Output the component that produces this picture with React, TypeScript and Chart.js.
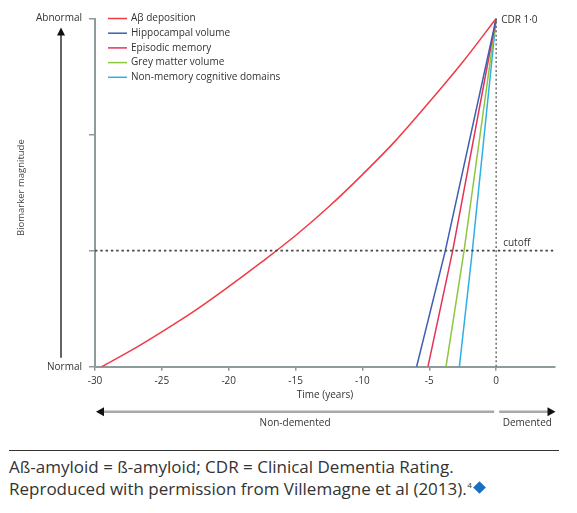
import React, { useEffect, useRef } from "react";
import { Chart, registerables } from "chart.js";

Chart.register(...registerables);

// ---- data ----
const abYears = [-29.5, -27, -25, -22.5, -20, -17.5, -15, -12.5, -10, -7.5, -5, -2.5, 0];
const abMag = [0, 0.16, 0.3, 0.485, 0.69, 0.905, 1.13, 1.38, 1.655, 1.95, 2.28, 2.625, 3];

const hippoYears = [-5.95, -3.8, 0];
const hippoMag = [0, 1, 3];
const episodicYears = [-5.1, -3.25, 0];
const episodicMag = [0, 1, 3];
const greyYears = [-3.75, -2.4, 0];
const greyMag = [0, 1, 3];
const nonMemYears = [-2.75, -1.78, 0];
const nonMemMag = [0, 1, 3];

const cutoffYears = [-30, 4.4];
const cutoffLevel = [1, 1];
const cdrYears = [0, 0];
const cdrLevel = [0, 3];

const seriesLabels = [
  "A\u03b2 deposition",
  "Hippocampal volume",
  "Episodic memory",
  "Grey matter volume",
  "Non-memory cognitive domains",
];
const seriesColors = ["#ef3b44", "#3d5fae", "#e3335a", "#8dc63f", "#2eb0e4"];

const xTickValues = [-30, -25, -20, -15, -10, -5, 0];
const xTickLabels = ["-30", "-25", "-20", "-15", "-10", "-5", "0"];
const yTickValues = [0, 3];
const yTickLabels = ["Normal", "Abnormal"];

const FONT = "'Open Sans', 'Noto Sans', sans-serif";
const AXIS = "#8e9b9c";
const TEXT = "#333333";

const pts = (xs: number[], ys: number[]) => xs.map((x, i) => ({ x, y: ys[i] }));

const decorPlugin = {
  id: "decor",
  afterDraw(chart: any) {
    const ctx = chart.ctx as CanvasRenderingContext2D;
    const xs = chart.scales.x;
    const ys = chart.scales.y;
    const area = chart.chartArea;
    ctx.save();

    // legend
    ctx.font = `10px ${FONT}`;
    ctx.textBaseline = "middle";
    ctx.textAlign = "left";
    chart.data.datasets.forEach((ds: any) => {
      if (ds.legendIndex === undefined) return;
      const y = area.top + ds.legendIndex * 14.7;
      ctx.strokeStyle = ds.borderColor;
      ctx.lineWidth = 1.5;
      ctx.beginPath();
      ctx.moveTo(area.left + 13, y);
      ctx.lineTo(area.left + 32, y);
      ctx.stroke();
      ctx.fillStyle = TEXT;
      ctx.fillText(ds.label, area.left + 36, y);
    });

    // CDR and cutoff labels
    ctx.fillStyle = TEXT;
    ctx.font = `10px ${FONT}`;
    ctx.fillText("CDR 1\u00b70", xs.getPixelForValue(0) + 5, ys.getPixelForValue(3) + 1.5);
    ctx.fillText("cutoff", xs.getPixelForValue(0) + 7, ys.getPixelForValue(1) - 7);

    // left outer arrow
    const ax = 61;
    const topY = ys.getPixelForValue(3) + 9;
    const botY = ys.getPixelForValue(0) - 9;
    ctx.strokeStyle = "#222";
    ctx.fillStyle = "#111";
    ctx.lineWidth = 1.4;
    ctx.beginPath();
    ctx.moveTo(ax, topY + 6);
    ctx.lineTo(ax, botY);
    ctx.stroke();
    ctx.beginPath();
    ctx.moveTo(ax, topY);
    ctx.lineTo(ax - 4, topY + 8);
    ctx.lineTo(ax + 4, topY + 8);
    ctx.closePath();
    ctx.fill();

    // rotated y title
    ctx.save();
    ctx.translate(21, (ys.getPixelForValue(3) + ys.getPixelForValue(0)) / 2 - 5);
    ctx.rotate(-Math.PI / 2);
    ctx.textAlign = "center";
    ctx.fillStyle = "#444";
    ctx.font = `9.5px ${FONT}`;
    ctx.fillText("Biomarker magnitude", 0, 0);
    ctx.restore();

    // bottom arrows
    const by = 411.7;
    const leftTip = xs.getPixelForValue(-30) + 1;
    const midL = xs.getPixelForValue(0) - 2;
    const midR = xs.getPixelForValue(0) + 3;
    const rightTip = area.right + 0.5;
    ctx.strokeStyle = "#a9a9a9";
    ctx.lineWidth = 2.5;
    ctx.beginPath();
    ctx.moveTo(leftTip + 6, by);
    ctx.lineTo(midL, by);
    ctx.moveTo(midR, by);
    ctx.lineTo(rightTip - 6, by);
    ctx.stroke();
    ctx.fillStyle = "#111";
    ctx.beginPath();
    ctx.moveTo(leftTip, by);
    ctx.lineTo(leftTip + 8, by - 4.5);
    ctx.lineTo(leftTip + 8, by + 4.5);
    ctx.closePath();
    ctx.fill();
    ctx.beginPath();
    ctx.moveTo(rightTip, by);
    ctx.lineTo(rightTip - 8, by - 4.5);
    ctx.lineTo(rightTip - 8, by + 4.5);
    ctx.closePath();
    ctx.fill();

    ctx.fillStyle = TEXT;
    ctx.font = `10px ${FONT}`;
    ctx.textAlign = "center";
    ctx.textBaseline = "middle";
    ctx.fillText("Non-demented", (leftTip + midL) / 2, 423);
    ctx.fillText("Demented", (midR + rightTip) / 2, 423);

    ctx.restore();
  },
};

export default function App() {
  const canvasRef = useRef<HTMLCanvasElement | null>(null);

  useEffect(() => {
    if (!canvasRef.current) return;
    const mk = (label: string, xs: number[], ys: number[], color: string, idx: number, tension = 0) => ({
      label,
      data: pts(xs, ys),
      borderColor: color,
      backgroundColor: color,
      borderWidth: 1.5,
      pointRadius: 0,
      tension,
      cubicInterpolationMode: tension ? "monotone" : "default",
      legendIndex: idx,
    });
    const chart = new Chart(canvasRef.current, {
      type: "line",
      data: {
        datasets: [
          {
            label: "cutoff",
            data: pts(cutoffYears, cutoffLevel),
            borderColor: "#444",
            borderWidth: 1.6,
            borderDash: [2.4, 2.9],
            pointRadius: 0,
          } as any,
          {
            label: "CDR",
            data: pts(cdrYears, cdrLevel),
            borderColor: "#666",
            borderWidth: 1.4,
            borderDash: [2, 2.4],
            pointRadius: 0,
          } as any,
          mk(seriesLabels[0], abYears, abMag, seriesColors[0], 0, 0.4),
          mk(seriesLabels[1], hippoYears, hippoMag, seriesColors[1], 1),
          mk(seriesLabels[2], episodicYears, episodicMag, seriesColors[2], 2),
          mk(seriesLabels[3], greyYears, greyMag, seriesColors[3], 3),
          mk(seriesLabels[4], nonMemYears, nonMemMag, seriesColors[4], 4),
        ],
      },
      options: {
        animation: false,
        responsive: false,
        devicePixelRatio: 1,
        layout: { padding: { top: 18.5, right: 22, bottom: 39, left: 0 } },
        plugins: { legend: { display: false }, tooltip: { enabled: false } },
        scales: {
          x: {
            type: "linear",
            min: -30,
            max: 4.4,
            afterFit: (s: any) => {
              s.height = 34.3;
            },
            afterBuildTicks: (s: any) => {
              s.ticks = xTickValues.map((v) => ({ value: v }));
            },
            border: { color: AXIS, width: 2 },
            grid: { drawOnChartArea: false, drawTicks: true, tickLength: 4, color: AXIS, lineWidth: 1.5 },
            ticks: {
              padding: 4,
              color: TEXT,
              maxRotation: 0,
              autoSkip: false,
              font: { family: FONT, size: 10 },
              callback: (v: any) => {
                const i = xTickValues.indexOf(Number(v));
                return i >= 0 ? xTickLabels[i] : "";
              },
            },
            title: {
              display: true,
              text: "Time (years)",
              color: TEXT,
              font: { family: FONT, size: 10 },
              padding: { top: 0, bottom: 0 },
            },
          },
          y: {
            min: 0,
            max: 3,
            afterFit: (s: any) => {
              s.width = 95;
            },
            afterBuildTicks: (s: any) => {
              s.ticks = [0, 1, 2, 3].map((v) => ({ value: v }));
            },
            border: { color: AXIS, width: 2 },
            grid: { drawOnChartArea: false, drawTicks: true, tickLength: 6, color: AXIS, lineWidth: 1.5 },
            ticks: {
              padding: 7,
              color: TEXT,
              font: { family: FONT, size: 10 },
              callback: (v: any) => {
                const i = yTickValues.indexOf(Number(v));
                return i >= 0 ? yTickLabels[i] : "";
              },
            },
          },
        },
      } as any,
      plugins: [decorPlugin],
    });
    return () => chart.destroy();
  }, []);

  return (
    <div
      style={{
        position: "absolute",
        left: 0,
        top: 0,
        width: 577,
        height: 513,
        background: "#fff",
        fontFamily: FONT,
      }}
    >
      <canvas ref={canvasRef} width={577} height={440} style={{ display: "block" }} />
      <div
        style={{
          position: "absolute",
          left: 9,
          top: 449.5,
          width: 550,
          borderTop: "1.2px solid #333",
        }}
      />
      <div
        style={{
          position: "absolute",
          left: 9,
          top: 456,
          fontSize: 17,
          lineHeight: "21.7px",
          color: "#333",
          whiteSpace: "nowrap",
        }}
      >
        <div>Aß-amyloid = ß-amyloid; CDR = Clinical Dementia Rating.</div>
        <div>
          Reproduced with permission from Villemagne et al (2013).
          <span
            style={{
              fontSize: 8,
              position: "relative",
              top: -7,
              marginLeft: 0.5,
            }}
          >
            4
          </span>
          <span
            style={{
              display: "inline-block",
              width: 9,
              height: 9,
              background: "#1a6fc0",
              transform: "rotate(45deg)",
              marginLeft: 3,
              position: "relative",
              top: -3,
            }}
          />
        </div>
      </div>
    </div>
  );
}
